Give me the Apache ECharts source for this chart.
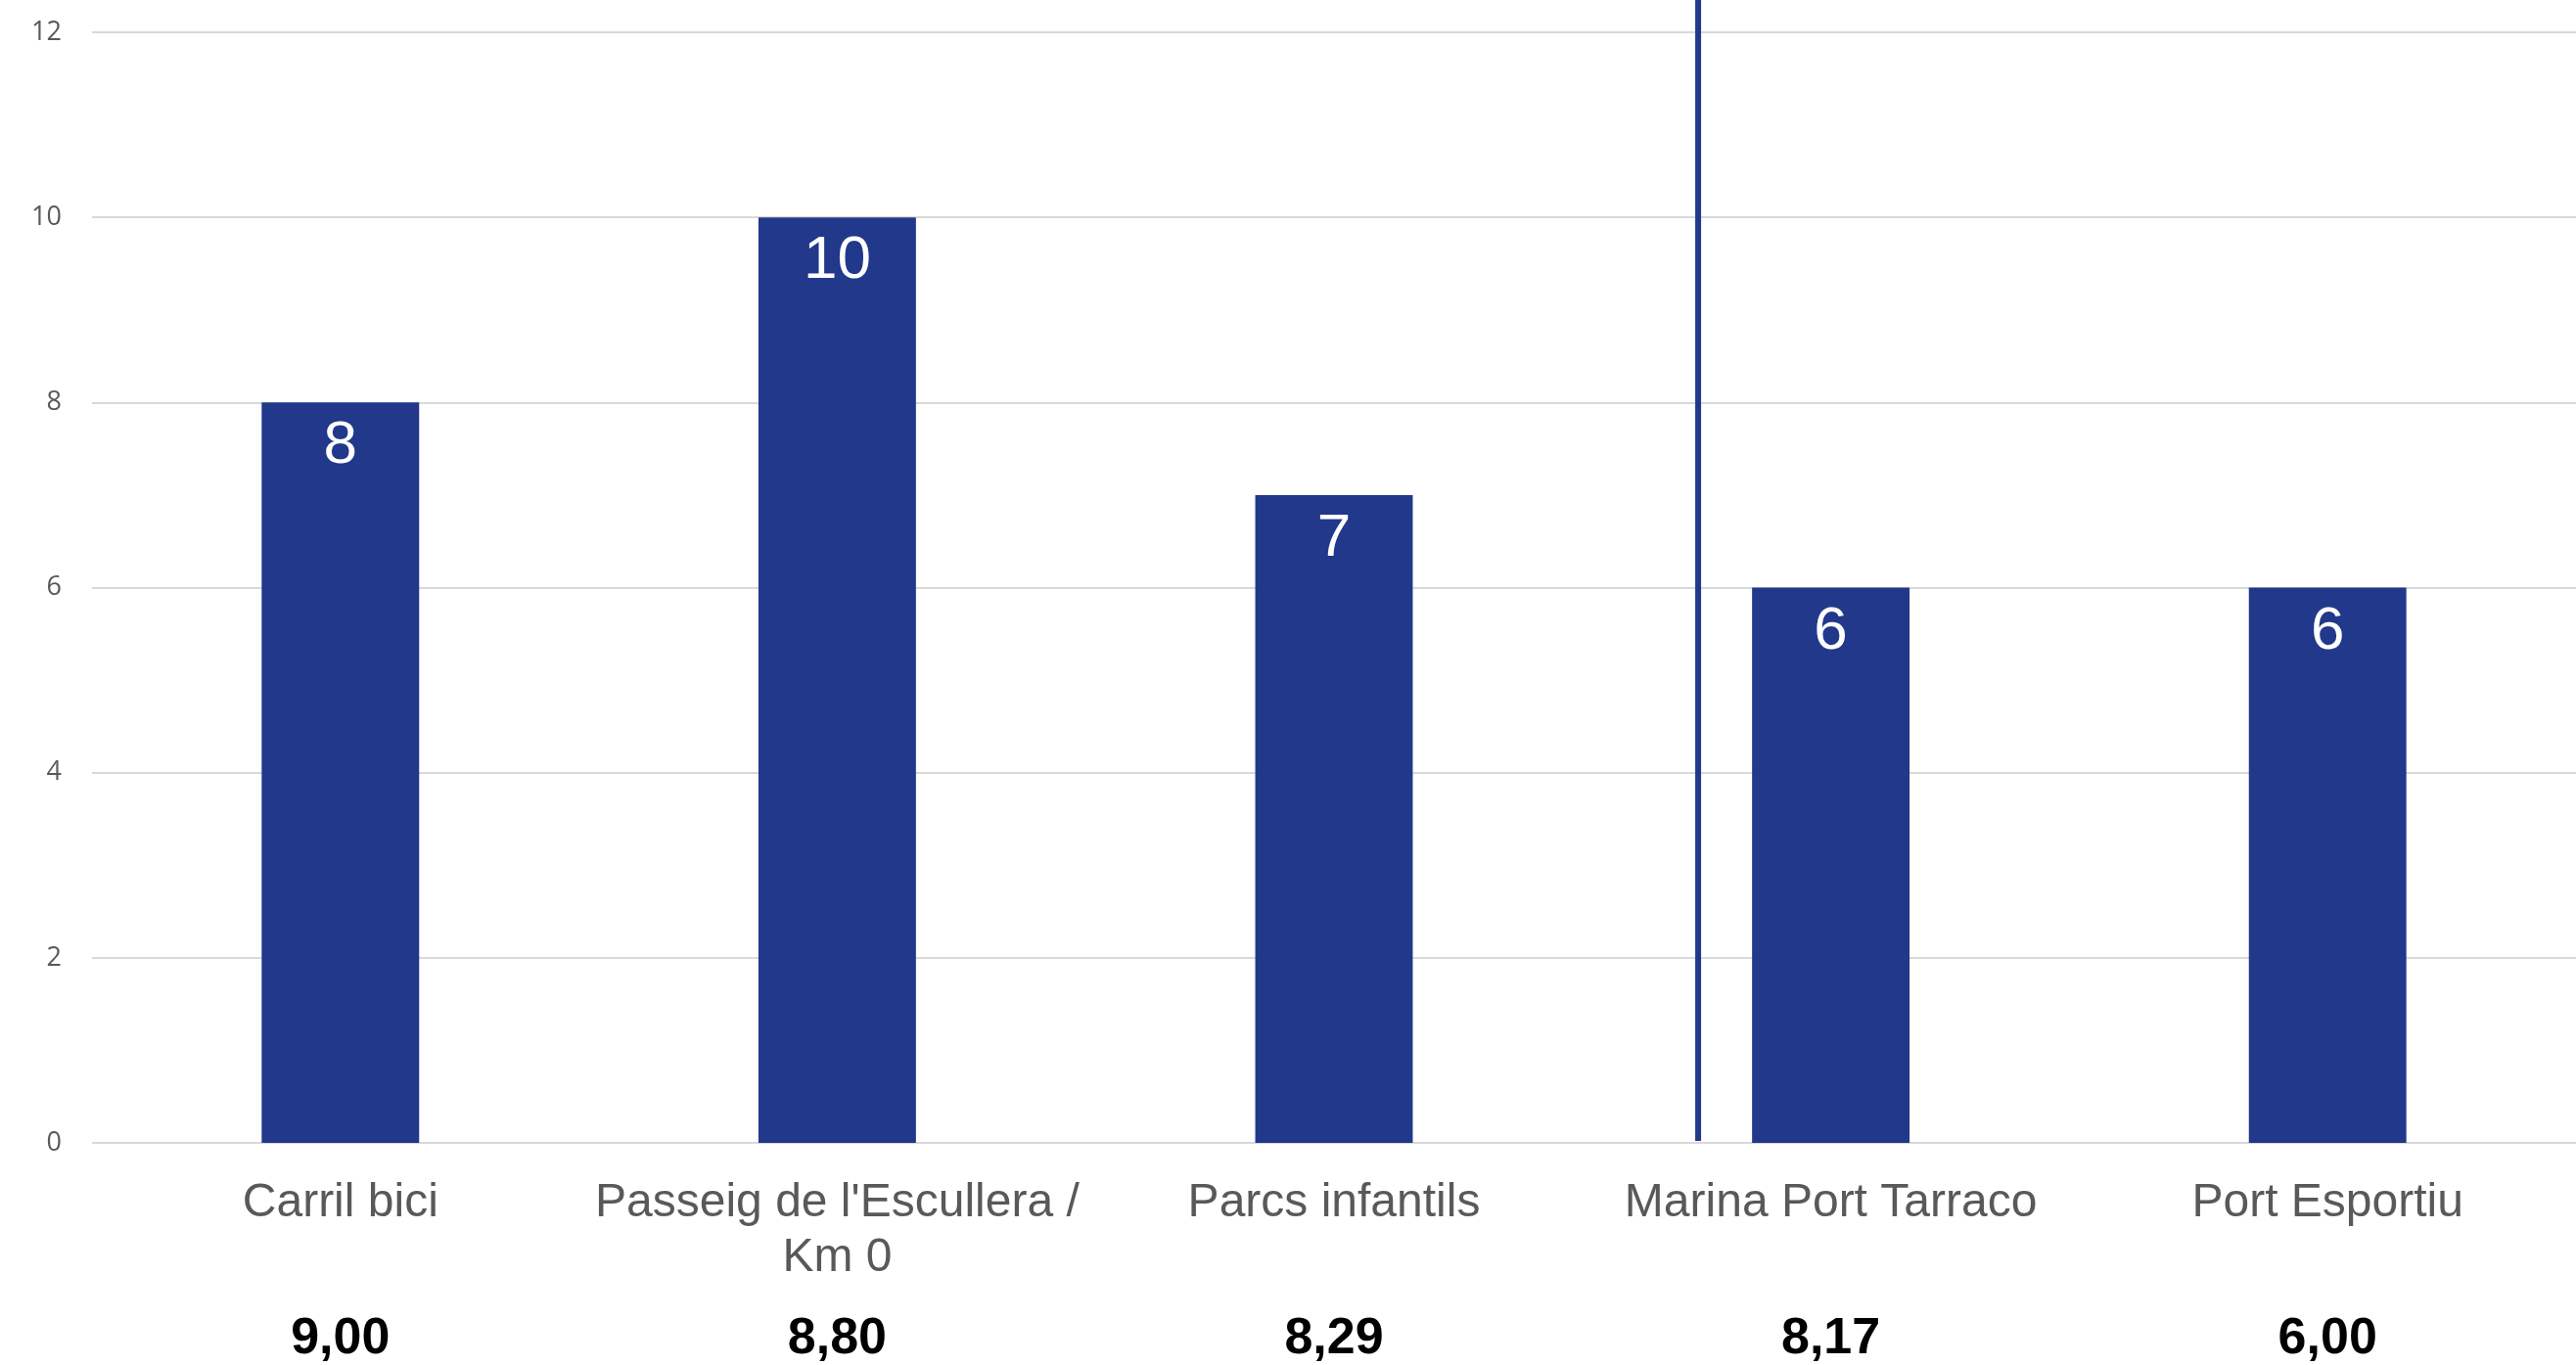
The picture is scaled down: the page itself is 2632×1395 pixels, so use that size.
<!DOCTYPE html>
<html><head><meta charset="utf-8">
<script src="https://cdn.jsdelivr.net/npm/echarts@6/dist/echarts.min.js"></script>
<style>html,body{margin:0;padding:0;background:#fff}#c{width:2632px;height:1395px}</style>
</head><body><div id="c"></div>
<script>
const categories = ['Carril bici', "Passeig de l'Escullera /\nKm 0", 'Parcs infantils', 'Marina Port Tarraco', 'Port Esportiu'];
const values = [8, 10, 7, 6, 6];
const scores = ['9,00', '8,80', '8,29', '8,17', '6,00'];
const yMin = 0, yMax = 12, yStep = 2;
const dividerX = 3.233;          // position on a 0..5 band scale
const dividerY = [0.02, 12.35];  // vertical extent in y units

const BLUE = '#21388B';
const chart = echarts.init(document.getElementById('c'), null, {renderer: 'canvas'});
chart.setOption({
  animation: false,
  backgroundColor: '#fff',
  grid: {left: 94, right: 0, top: 33, bottom: 227, containLabel: false},
  xAxis: [
    {
      type: 'category', data: categories, position: 'bottom',
      axisLine: {show: false}, axisTick: {show: false},
      axisLabel: {color: '#595959', fontSize: 48, fontFamily: 'Liberation Sans', margin: 34, lineHeight: 56, interval: 0}
    },
    {
      type: 'category', data: scores, position: 'bottom',
      axisLine: {show: false}, axisTick: {show: false},
      axisLabel: {color: '#000', fontSize: 52, fontWeight: 'bold', fontFamily: 'Liberation Sans', margin: 175, interval: 0}
    },
    {type: 'value', min: 0, max: 5, show: false}
  ],
  yAxis: {
    type: 'value', min: yMin, max: yMax, interval: yStep,
    axisLine: {show: false}, axisTick: {show: false},
    axisLabel: {color: '#595959', fontSize: 27, fontFamily: 'Open Sans', margin: 31},
    splitLine: {lineStyle: {color: '#d9d9d9', width: 2}}
  },
  series: [
    {
      type: 'bar', data: values, xAxisIndex: 0, barWidth: '31.7%',
      itemStyle: {color: BLUE},
      label: {show: true, position: 'insideTop', distance: 14, color: '#fff', fontSize: 62, fontFamily: 'Liberation Sans'}
    },
    {
      type: 'line', xAxisIndex: 2, yAxisIndex: 0, clip: false, silent: true,
      symbol: 'none', data: dividerY.map(y => [dividerX, y]),
      lineStyle: {color: BLUE, width: 6}
    }
  ]
});
</script></body></html>
